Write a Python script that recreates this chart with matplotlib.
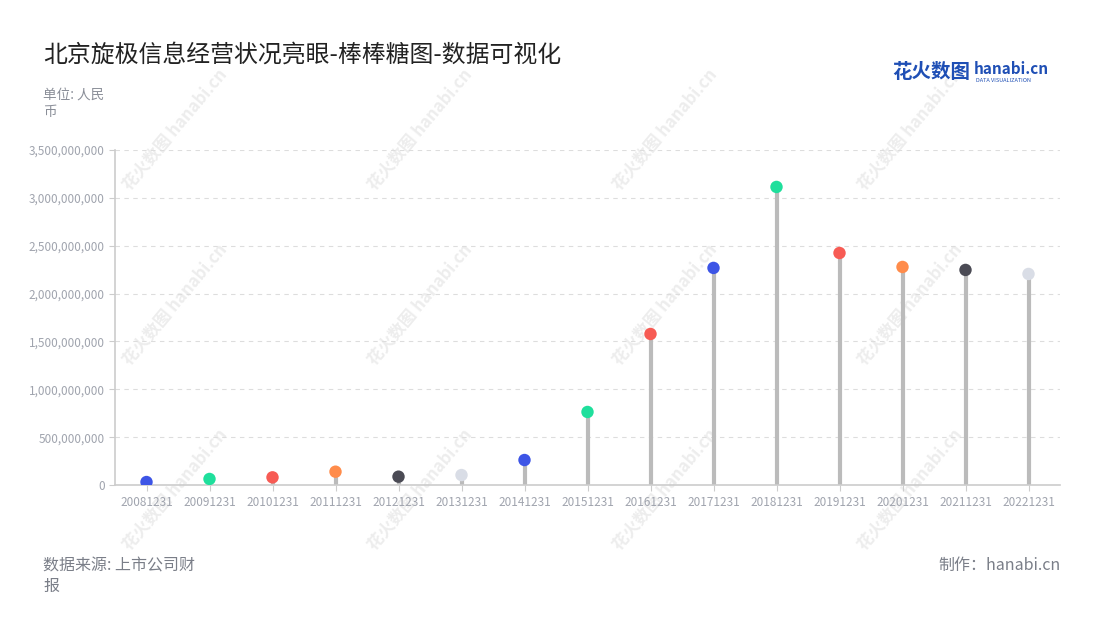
import numpy as np
import matplotlib.pyplot as plt
from matplotlib.ticker import FuncFormatter

plt.rcParams['font.family'] = ['Noto Sans CJK SC', 'DejaVu Sans']

# data
dates = ['20081231', '20091231', '20101231', '20111231', '20121231',
         '20131231', '20141231', '20151231', '20161231', '20171231',
         '20181231', '20191231', '20201231', '20211231', '20221231']
values = [31e6, 63e6, 80e6, 139e6, 87e6,
          104e6, 261e6, 763e6, 1578e6, 2268e6,
          3114e6, 2424e6, 2278e6, 2247e6, 2205e6]
dot_colors = ['#3d55e6', '#1fdf9c', '#f75b54', '#ff8c4b', '#4b4b55',
              '#d9dde6', '#3d55e6', '#1fdf9c', '#f75b54', '#3d55e6',
              '#1fdf9c', '#f75b54', '#ff8c4b', '#4b4b55', '#d9dde6']

fig = plt.figure(figsize=(11, 6.2), dpi=100)
ax = fig.add_axes([115/1100, 135/620, 945/1100, 335/620])
ax.patch.set_alpha(0)

x = np.arange(len(dates))
ax.vlines(x, 0, values, color='#bbbbbb', linewidth=3, zorder=2)
ax.scatter(x, values, s=80, c=dot_colors, zorder=3, linewidths=0)

ax.set_xlim(-0.5, len(dates) - 0.5)
ax.set_ylim(0, 3.5e9)
ax.set_yticks(np.arange(0, 3.5e9 + 1, 5e8))
ax.yaxis.set_major_formatter(FuncFormatter(lambda v, p: f'{int(v):,}'))
ax.set_xticks(x)
ax.set_xticklabels(dates)

ax.grid(axis='y', linestyle=(0, (4, 4)), color='#dddddd', linewidth=0.8)
ax.set_axisbelow(True)
for s in ['top', 'right']:
    ax.spines[s].set_visible(False)
for s in ['left', 'bottom']:
    ax.spines[s].set_color('#cccccc')
    ax.spines[s].set_linewidth(1.2)
ax.tick_params(axis='both', colors='#cccccc', length=4, labelsize=8.5,
               labelcolor='#a0a4ae')
ax.tick_params(axis='x', pad=4)

# faint watermarks behind the chart
for wx in [175, 420, 665, 910]:
    for wy in [130, 305, 490]:
        fig.text(wx / 1100, 1 - wy / 620, '花火数图 hanabi.cn', rotation=50,
                 fontsize=12, color='#ededed', ha='center', va='center',
                 fontweight='bold', zorder=-1)

# titles and notes
fig.text(43 / 1100, 1 - 55 / 620, '北京旋极信息经营状况亮眼-棒棒糖图-数据可视化',
         fontsize=17.2, color='#222222', va='center')
fig.text(43 / 1100, 1 - 88 / 620, '单位: 人民\n币', fontsize=9.8,
         color='#8a8e98', va='top', linespacing=1.3)
fig.text(43 / 1100, 1 - 557 / 620, '数据来源: 上市公司财\n报', fontsize=11.5,
         color='#7a7e88', va='top', linespacing=1.3)
fig.text(1061 / 1100, 1 - 557 / 620, '制作：hanabi.cn', fontsize=11.5,
         color='#7a7e88', va='top', ha='right')

# logo
fig.text(892 / 1100, 1 - 72 / 620, '花火数图', fontsize=14, color='#1f4fb5',
         fontweight='bold', va='center')
fig.text(974 / 1100, 1 - 69 / 620, 'hanabi.cn', fontsize=11, color='#1f4fb5',
         fontweight='bold', va='center')
fig.text(976 / 1100, 1 - 80 / 620, 'DATA VISUALIZATION', fontsize=4,
         color='#1f4fb5', va='center')

fig.savefig('out.png', dpi=100)
